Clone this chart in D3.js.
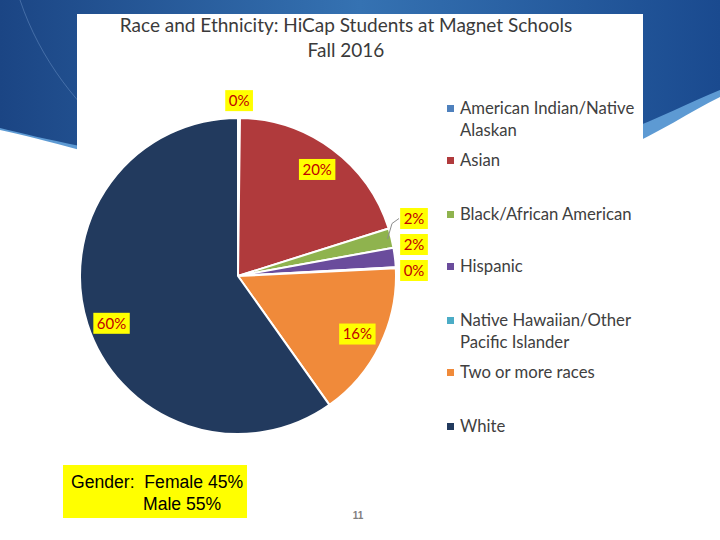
<!DOCTYPE html>
<html>
<head>
<meta charset="utf-8">
<script src="https://cdn.jsdelivr.net/npm/d3@7"></script>
<style>
  body { margin: 0; background: #fff; }
  svg { display: block; }
</style>
</head>
<body>
<div id="chart"></div>
<script>
// data
var categories = ["American Indian/Native Alaskan", "Asian", "Black/African American", "Hispanic",
  "Native Hawaiian/Other Pacific Islander", "Two or more races", "White"]
var legendLines = [["American Indian/Native", "Alaskan"], ["Asian"], ["Black/African American"], ["Hispanic"],
  ["Native Hawaiian/Other", "Pacific Islander"], ["Two or more races"], ["White"]]
var values = [0.2, 20, 2, 2, 0.1, 16, 60]
var colors = ["#4f81bd", "#b03a3c", "#8fb34e", "#6a4c9c", "#4bacc6", "#f08a3a", "#223a5e"]
var genderLines = ["Gender:  Female 45%", "Male 55%"]

var svgWidth = 720
var svgHeight = 540

var svg = d3.select("#chart")
  .append("svg")
  .attr("width", svgWidth)
  .attr("height", svgHeight)

// slide background
var defs = svg.append("defs")
var grad = defs.append("linearGradient").attr("id", "bg").attr("x1", "0").attr("x2", "1")
grad.append("stop").attr("offset", "0").attr("stop-color", "#1b4584")
grad.append("stop").attr("offset", "0.5").attr("stop-color", "#3572b2")
grad.append("stop").attr("offset", "1").attr("stop-color", "#1a4a8f")

svg.append("path")
  .attr("d", "M0,0 H720 V97 C690,112 660,132 620,150 L80,150 C50,142 20,134 0,130 Z")
  .attr("fill", "#5d9ad3")
svg.append("path")
  .attr("d", "M0,0 H720 V90 C690,102 660,118 620,133 L80,146 C50,140 20,133 0,128 Z")
  .attr("fill", "url(#bg)")
svg.append("path")
  .attr("d", "M20,0 C40,60 80,110 120,140")
  .attr("fill", "none").attr("stroke", "#6f95c8").attr("stroke-width", 0.8).attr("opacity", 0.6)

// chart area
svg.append("rect")
  .attr("x", 77).attr("y", 14)
  .attr("width", 566).attr("height", 440)
  .attr("fill", "#fff")

var titleFont = "Lato, 'Open Sans', sans-serif"

svg.append("text")
  .attr("x", 346).attr("y", 32)
  .attr("text-anchor", "middle")
  .style("font-family", titleFont).style("font-size", "19px")
  .attr("fill", "#3a3a3a")
  .text("Race and Ethnicity: HiCap Students at Magnet Schools")
svg.append("text")
  .attr("x", 346).attr("y", 57)
  .attr("text-anchor", "middle")
  .style("font-family", titleFont).style("font-size", "19px")
  .attr("fill", "#3a3a3a")
  .text("Fall 2016")

// pie
var cx = 238, cy = 276, radius = 158
var pie = d3.pie().sort(null).value(d => d)
var arcs = pie(values)
var arc = d3.arc().innerRadius(0).outerRadius(radius)

var pieGroup = svg.append("g").attr("transform", `translate(${cx}, ${cy})`)

pieGroup.selectAll("path")
  .data(arcs)
  .enter()
  .append("path")
  .attr("d", arc)
  .attr("fill", (d, i) => colors[i])
  .attr("stroke", "#fff")
  .attr("stroke-width", 2)
  .attr("stroke-linejoin", "round")

// labels
var fmt = v => Math.round(v) + "%"
var inner = d3.arc().innerRadius(radius * 0.84).outerRadius(radius * 0.84)
var outer = d3.arc().innerRadius(radius * 1.11).outerRadius(radius * 1.11)

var labelPos = arcs.map(function(d, i) {
  if (d.endAngle - d.startAngle > 0.5) return inner.centroid(d)
  return outer.centroid(d)
})
// stack the small right-side labels so they don't overlap
var side = [2, 3, 4]
var sideX = 176
side.forEach(function(k, j) { labelPos[k] = [sideX, -57.5 + j * 26] })
// big slice label sits a bit lower (excel best fit)
labelPos[6] = [labelPos[6][0], labelPos[6][1] + 7]

var labelGroup = pieGroup.append("g")

// leader line for the black/african american slice
var b = arcs[2]
var mid = (b.startAngle + b.endAngle) / 2
labelGroup.append("polyline")
  .attr("points", [[Math.sin(mid) * (radius - 4), -Math.cos(mid) * (radius - 4)],
    [labelPos[2][0] - 22, labelPos[2][1] + 5],
    [labelPos[2][0] - 15, labelPos[2][1]]].map(p => p.join(",")).join(" "))
  .attr("fill", "none").attr("stroke", "#8c8c8c").attr("stroke-width", 1)

var lbl = labelGroup.selectAll("g.lbl")
  .data(arcs)
  .enter()
  .append("g")
  .attr("class", "lbl")
  .attr("transform", (d, i) => `translate(${labelPos[i][0]}, ${labelPos[i][1]})`)

lbl.each(function(d, i) {
  var g = d3.select(this)
  var t = g.append("text")
    .attr("text-anchor", "middle")
    .attr("dy", "0.36em")
    .style("font-family", titleFont).style("font-size", "15px")
    .attr("fill", "#c00000")
    .text(fmt(values[i]))
  var bb = t.node().getBBox()
  g.insert("rect", "text")
    .attr("x", bb.x - 3.5).attr("y", -10.5)
    .attr("width", bb.width + 7).attr("height", 21)
    .attr("fill", "#ffff00")
})

// legend
var legendY = [114, 166, 220, 272, 326, 378, 432]
var legend = svg.append("g").attr("transform", "translate(452, 0)")
var item = legend.selectAll("g")
  .data(categories)
  .enter()
  .append("g")
  .attr("transform", (d, i) => `translate(0, ${legendY[i]})`)

item.append("rect")
  .attr("x", -5).attr("y", -9)
  .attr("width", 7).attr("height", 7)
  .attr("fill", (d, i) => colors[i])

item.each(function(d, i) {
  d3.select(this).selectAll("text")
    .data(legendLines[i])
    .enter()
    .append("text")
    .attr("x", 8)
    .attr("y", (s, j) => j * 22)
    .style("font-family", titleFont).style("font-size", "16.7px")
    .attr("fill", "#404040")
    .text(s => s)
})

// gender box
var genderFont = "'Liberation Sans Narrow', 'Arial Narrow', 'Liberation Sans', sans-serif"
svg.append("rect")
  .attr("x", 63).attr("y", 465)
  .attr("width", 184).attr("height", 53)
  .attr("fill", "#ffff00")
svg.append("text")
  .attr("x", 71).attr("y", 488)
  .style("font-family", genderFont).style("font-size", "17.6px")
  .style("white-space", "pre")
  .attr("fill", "#000")
  .text(genderLines[0])
svg.append("text")
  .attr("x", 143).attr("y", 510)
  .style("font-family", genderFont).style("font-size", "17.6px")
  .attr("fill", "#000")
  .text(genderLines[1])

// page number
svg.append("text")
  .attr("x", 358).attr("y", 519)
  .attr("text-anchor", "middle")
  .style("font-family", "'Liberation Sans', Arial, sans-serif").style("font-size", "10px").style("font-weight", "bold")
  .attr("fill", "#7f7f7f")
  .text("11")
</script>
</body>
</html>
